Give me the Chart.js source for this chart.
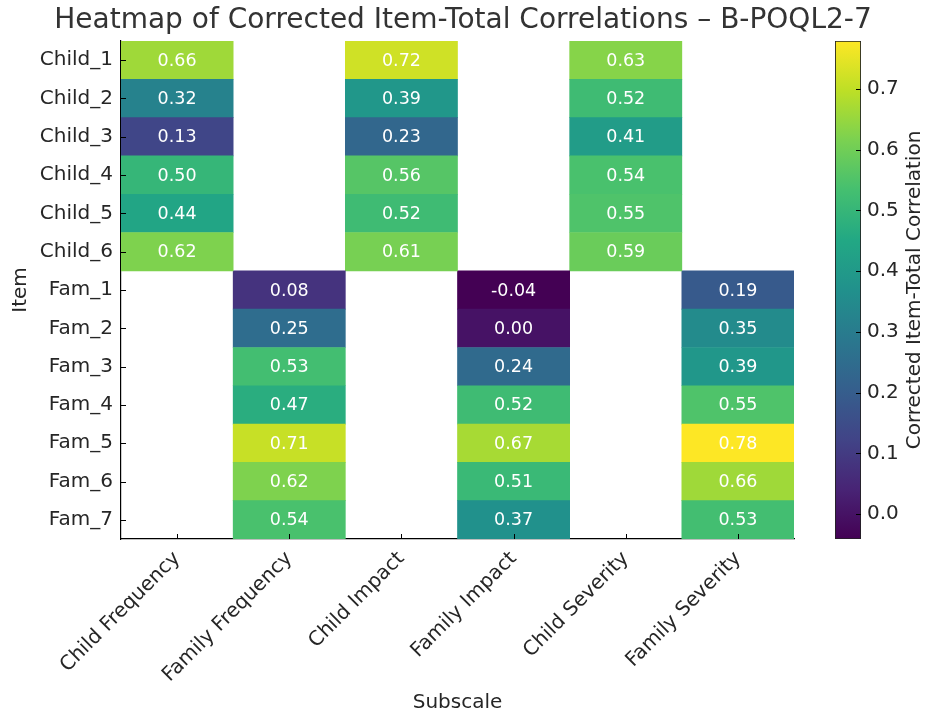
<!DOCTYPE html>
<html>
<head>
<meta charset="utf-8">
<script src="https://cdn.jsdelivr.net/npm/chart.js@4"></script>
<style>
  body { margin: 0; background: #fff; }
  #wrap { position: relative; width: 927px; height: 716px; }
  #wrap canvas { position: absolute; top: 0; }
</style>
</head>
<body>
<div id="wrap">
  <canvas id="heatmap" width="927" height="716" style="left:0"></canvas>
  <canvas id="colorbar" width="107" height="716" style="left:820px"></canvas>
</div>
<script>
// dados do heatmap
const subscales = ['Child Frequency', 'Family Frequency', 'Child Impact', 'Family Impact', 'Child Severity', 'Family Severity'];
const items = ['Child_1', 'Child_2', 'Child_3', 'Child_4', 'Child_5', 'Child_6',
               'Fam_1', 'Fam_2', 'Fam_3', 'Fam_4', 'Fam_5', 'Fam_6', 'Fam_7'];

const childFrequency  = [0.66, 0.32, 0.13, 0.50, 0.44, 0.62, null, null, null, null, null, null, null];
const familyFrequency = [null, null, null, null, null, null, 0.08, 0.25, 0.53, 0.47, 0.71, 0.62, 0.54];
const childImpact     = [0.72, 0.39, 0.23, 0.56, 0.52, 0.61, null, null, null, null, null, null, null];
const familyImpact    = [null, null, null, null, null, null, -0.04, 0.00, 0.24, 0.52, 0.67, 0.51, 0.37];
const childSeverity   = [0.63, 0.52, 0.41, 0.54, 0.55, 0.59, null, null, null, null, null, null, null];
const familySeverity  = [null, null, null, null, null, null, 0.19, 0.35, 0.39, 0.55, 0.78, 0.66, 0.53];

const colunas = [childFrequency, familyFrequency, childImpact, familyImpact, childSeverity, familySeverity];

const vMin = -0.041;
const vMax = 0.779;
const colorbarTicks = [0.0, 0.1, 0.2, 0.3, 0.4, 0.5, 0.6, 0.7];

// viridis
const viridis = ['#440154', '#482475', '#414487', '#355f8d', '#2a788e', '#21918c',
                 '#22a884', '#44bf70', '#7ad151', '#bddf26', '#fde725'];

function hexToRgb(h) {
    return [parseInt(h.slice(1, 3), 16), parseInt(h.slice(3, 5), 16), parseInt(h.slice(5, 7), 16)];
}

function corViridis(v) {
    let t = (v - vMin) / (vMax - vMin);
    t = Math.max(0, Math.min(1, t));
    const pos = t * (viridis.length - 1);
    const i = Math.min(Math.floor(pos), viridis.length - 2);
    const f = pos - i;
    const a = hexToRgb(viridis[i]);
    const b = hexToRgb(viridis[i + 1]);
    const c = a.map((x, k) => Math.round(x + (b[k] - x) * f));
    return `rgb(${c[0]}, ${c[1]}, ${c[2]})`;
}

const fonte = 'DejaVu Sans';
const corTexto = '#262626';

// cada coluna vira um dataset de barras horizontais flutuantes
const datasets = colunas.map((vals, c) => ({
    label: subscales[c],
    data: vals.map(v => v === null ? null : [c - 0.5, c + 0.5]),
    backgroundColor: vals.map(v => v === null ? 'rgba(0,0,0,0)' : corViridis(v)),
    borderWidth: 0,
    grouped: false,
    barPercentage: 1,
    categoryPercentage: 1
}));

// título, valores dentro das células e ticks internos
const pluginValores = {
    id: 'valores',
    afterDatasetsDraw(chart) {
        const ctx = chart.ctx;
        const xs = chart.scales.x;
        const ys = chart.scales.y;
        ctx.save();
        ctx.font = `17.5px "${fonte}"`;
        ctx.fillStyle = '#fff';
        ctx.textAlign = 'center';
        ctx.textBaseline = 'middle';
        colunas.forEach((vals, c) => {
            vals.forEach((v, r) => {
                if (v === null) return;
                ctx.fillText(v.toFixed(2), xs.getPixelForValue(c), ys.getPixelForValue(r) + 1);
            });
        });
        ctx.restore();
    },
    afterDraw(chart) {
        const ctx = chart.ctx;
        const xs = chart.scales.x;
        const ys = chart.scales.y;
        const area = chart.chartArea;
        ctx.save();
        ctx.strokeStyle = '#000';
        ctx.lineWidth = 1;
        subscales.forEach((s, c) => {
            const x = Math.round(xs.getPixelForValue(c)) + 0.5;
            ctx.beginPath();
            ctx.moveTo(x, area.bottom);
            ctx.lineTo(x, area.bottom - 5);
            ctx.stroke();
        });
        items.forEach((s, r) => {
            const y = Math.round(ys.getPixelForValue(r)) + 0.5;
            ctx.beginPath();
            ctx.moveTo(area.left, y);
            ctx.lineTo(area.left + 5, y);
            ctx.stroke();
        });
        // título centrado na figura inteira
        ctx.font = `28px "${fonte}"`;
        ctx.fillStyle = '#333';
        ctx.textAlign = 'center';
        ctx.textBaseline = 'middle';
        ctx.fillText('Heatmap of Corrected Item-Total Correlations – B-POQL2-7', 463, 21);
        ctx.restore();
    }
};

new Chart(document.getElementById('heatmap'), {
    type: 'bar',
    data: { labels: items, datasets: datasets },
    plugins: [pluginValores],
    options: {
        indexAxis: 'y',
        responsive: false,
        animation: false,
        events: [],
        layout: { padding: { top: 41, right: 133, bottom: 0, left: 0 } },
        plugins: {
            legend: { display: false },
            tooltip: { enabled: false },
            title: { display: false }
        },
        scales: {
            x: {
                type: 'linear',
                min: -0.5,
                max: 5.5,
                afterBuildTicks(scale) {
                    scale.ticks = subscales.map((s, i) => ({ value: i }));
                },
                afterFit(scale) { scale.height = 177; },
                grid: { display: false, drawTicks: false },
                border: { display: true, color: '#000', width: 1.2 },
                ticks: {
                    autoSkip: false,
                    minRotation: 45,
                    maxRotation: 45,
                    padding: 8,
                    color: corTexto,
                    font: { family: fonte, size: 20 },
                    callback: v => subscales[v]
                },
                title: {
                    display: true,
                    text: 'Subscale',
                    color: corTexto,
                    font: { family: fonte, size: 20 },
                    padding: { top: 0, bottom: 1 }
                }
            },
            y: {
                type: 'category',
                afterFit(scale) { scale.width = 121; },
                grid: { display: false, drawTicks: false },
                border: { display: true, color: '#000', width: 1.2 },
                ticks: {
                    padding: 8,
                    color: corTexto,
                    font: { family: fonte, size: 20 }
                },
                title: {
                    display: true,
                    text: 'Item',
                    color: corTexto,
                    font: { family: fonte, size: 20 },
                    padding: { top: 9, bottom: 0 }
                }
            }
        }
    }
});

// barra de cores: ticks para dentro e rótulo lido de baixo para cima
const pluginColorbar = {
    id: 'colorbarExtras',
    afterDraw(chart) {
        const ctx = chart.ctx;
        const ys = chart.scales.y;
        const area = chart.chartArea;
        ctx.save();
        ctx.strokeStyle = '#000';
        ctx.lineWidth = 1;
        colorbarTicks.forEach(v => {
            const y = Math.round(ys.getPixelForValue(v)) + 0.5;
            ctx.beginPath();
            ctx.moveTo(area.right, y);
            ctx.lineTo(area.right - 5, y);
            ctx.stroke();
        });
        ctx.translate(95, (area.top + area.bottom) / 2);
        ctx.rotate(-Math.PI / 2);
        ctx.font = `20px "${fonte}"`;
        ctx.fillStyle = corTexto;
        ctx.textAlign = 'center';
        ctx.textBaseline = 'middle';
        ctx.fillText('Corrected Item-Total Correlation', 0, 0);
        ctx.restore();
    }
};

new Chart(document.getElementById('colorbar'), {
    type: 'bar',
    data: {
        labels: ['cb'],
        datasets: [{
            data: [[vMin, vMax]],
            backgroundColor(context) {
                const chart = context.chart;
                const ys = chart.scales.y;
                if (!chart.chartArea || !ys) return viridis[5];
                const g = chart.ctx.createLinearGradient(0, ys.getPixelForValue(vMin), 0, ys.getPixelForValue(vMax));
                viridis.forEach((cor, i) => g.addColorStop(i / (viridis.length - 1), cor));
                return g;
            },
            borderColor: '#222',
            borderWidth: 1.2,
            borderSkipped: false,
            barPercentage: 1,
            categoryPercentage: 1
        }]
    },
    plugins: [pluginColorbar],
    options: {
        responsive: false,
        animation: false,
        events: [],
        layout: { padding: { top: 41, right: 0, bottom: 177, left: 15 } },
        plugins: { legend: { display: false }, tooltip: { enabled: false } },
        scales: {
            x: { display: false },
            y: {
                position: 'right',
                min: vMin,
                max: vMax,
                afterBuildTicks(scale) {
                    scale.ticks = colorbarTicks.map(v => ({ value: v }));
                },
                afterFit(scale) { scale.width = 66; },
                grid: { display: false, drawTicks: false },
                border: { display: false },
                ticks: {
                    padding: 6,
                    color: corTexto,
                    font: { family: fonte, size: 20 },
                    callback: v => v.toFixed(1)
                },
                title: { display: false }
            }
        }
    }
});
</script>
</body>
</html>
